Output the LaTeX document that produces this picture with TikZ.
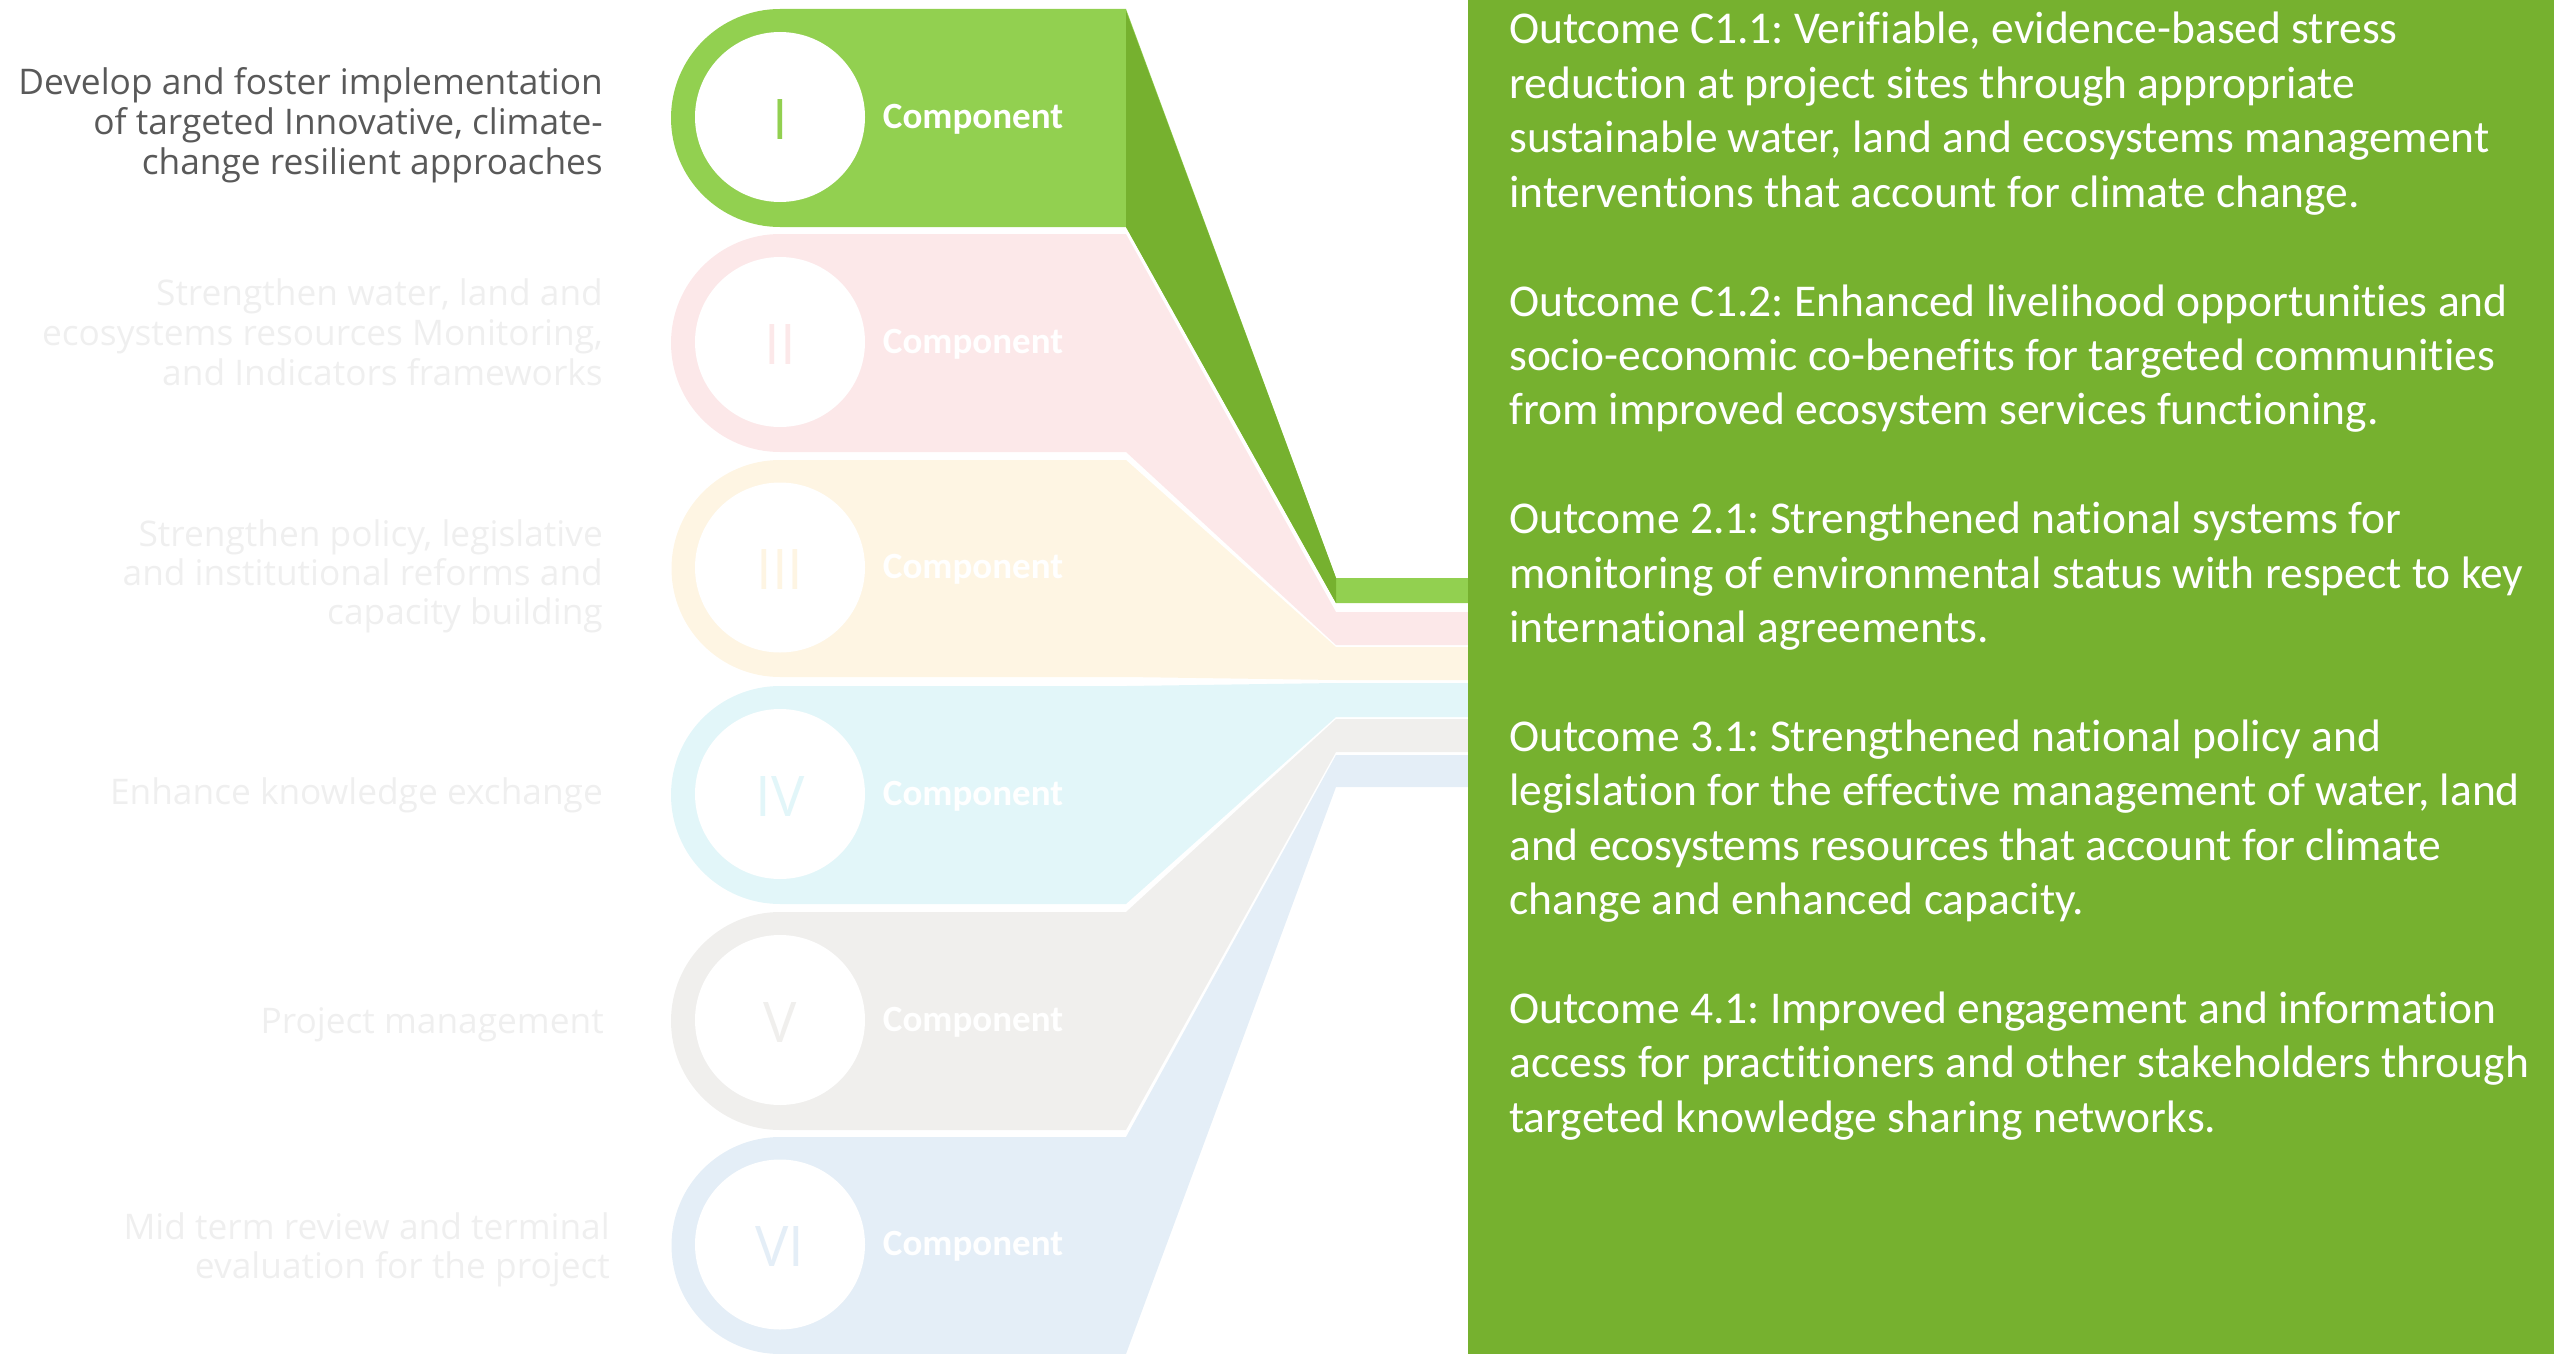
\documentclass[tikz,border=0pt]{standalone}
\usepackage{fontspec}
\setmainfont{Open Sans}
\newfontfamily\calfont{Carlito}[Ligatures=NoCommon]
\newfontfamily\numfont{Open Sans}
\definecolor{lgreen}{HTML}{92D050}
\definecolor{dgreen}{HTML}{76B12F}
\definecolor{cI}{HTML}{92D050}
\definecolor{cII}{HTML}{FCE8E9}
\definecolor{cIII}{HTML}{FEF5E3}
\definecolor{cIV}{HTML}{E2F6F9}
\definecolor{cV}{HTML}{F0EFED}
\definecolor{cVI}{HTML}{E4EEF7}
\definecolor{tdark}{HTML}{595959}
\definecolor{tpale}{HTML}{EFEFEF}
\frenchspacing
\begin{document}
\begin{tikzpicture}[x=1pt,y=1pt,
  lefttext/.style={anchor=base east, inner sep=0pt, font=\fontsize{35.3}{42}\selectfont},
  outtext/.style={anchor=base west, inner sep=0pt, text=white, font=\calfont\fontsize{45.5}{54}\selectfont},
  comptext/.style={anchor=base, inner sep=0pt, text=white, font=\calfont\bfseries\fontsize{37}{44}\selectfont},
  numtext/.style={anchor=base, inner sep=0pt, font=\numfont\fontsize{56}{60}\selectfont}]
\useasboundingbox (0,0) rectangle (2554,-1354);
% ribbons: pill + connector + bar
\foreach \k/\T/\B/\bt/\bb/\col in {1/9/227/578/603/cI, 2/234/452/612/645/cII, 3/460/677/647/680/cIII, 4/686/904/683/717/cIV, 5/912/1130/719/752/cV, 6/1137/1354/755/787/cVI}{
  \pgfmathsetmacro\R{(\B-\T)/2}
  \fill[\col] (1126,-\T) -- (1336,-\bt) -- (1470,-\bt) -- (1470,-\bb) -- (1336,-\bb) -- (1126,-\B) -- (780,-\B) arc[start angle=270,end angle=90,radius=\R] -- cycle;
}
% darker side face of ribbon I
\fill[dgreen] (1126,-11) -- (1336,-578) -- (1336,-603) -- (1126,-227) -- cycle;
% circles, numerals and labels
\foreach \k/\T/\B/\col/\num in {1/9/227/lgreen/I, 2/234/452/cII/II, 3/460/677/cIII/III, 4/686/904/cIV/IV, 5/912/1130/cV/V, 6/1137/1354/cVI/VI}{
  \pgfmathsetmacro\C{(\B+\T)/2}
  \fill[white] (780,{-(\C-1)}) circle[radius=85];
  \node[numtext, text=\col] (num\k) at (780,{-(\C+21)}) {\num};
  \node[comptext] (comp\k) at (973,{-(\C+10)}) {Component};
}
% outcome box
\fill[dgreen] (1468,0) rectangle (2554,-1354);
\foreach \n/\t in {0/{Outcome C1.1: Verifiable, evidence-based stress},
  1/{reduction at project sites through appropriate},
  2/{sustainable water, land and ecosystems management},
  3/{interventions that account for climate change.},
  5/{Outcome C1.2: Enhanced livelihood opportunities and},
  6/{socio-economic co-benefits for targeted communities},
  7/{from improved ecosystem services functioning.},
  9/{Outcome 2.1: Strengthened national systems for},
  10/{monitoring of environmental status with respect to key},
  11/{international agreements.},
  13/{Outcome 3.1: Strengthened national policy and},
  14/{legislation for the effective management of water, land},
  15/{and ecosystems resources that account for climate},
  16/{change and enhanced capacity.},
  18/{Outcome 4.1: Improved engagement and information},
  19/{access for practitioners and other stakeholders through},
  20/{targeted knowledge sharing networks.}}{
  \node[outtext] (out\n) at (1509,{-(44+54.4*\n)}) {\t};
}
% left descriptions
\node[lefttext, text=tdark] (d1a) at (603,-94) {Develop and foster implementation};
\node[lefttext, text=tdark] (d1b) at (603,-134) {of targeted Innovative, climate-};
\node[lefttext, text=tdark] (d1c) at (603,-174) {change resilient approaches};
\node[lefttext, text=tpale] (d2a) at (603,-305) {Strengthen water, land and};
\node[lefttext, text=tpale] (d2b) at (603,-345) {ecosystems resources Monitoring,};
\node[lefttext, text=tpale] (d2c) at (603,-385) {and Indicators frameworks};
\node[lefttext, text=tpale] (d3a) at (603,-546) {Strengthen policy, legislative};
\node[lefttext, text=tpale] (d3b) at (603,-585) {and institutional reforms and};
\node[lefttext, text=tpale] (d3c) at (603,-624) {capacity building};
\node[lefttext, text=tpale] (d4a) at (603,-804) {Enhance knowledge exchange};
\node[lefttext, text=tpale] (d5a) at (604,-1033) {Project management};
\node[lefttext, text=tpale] (d6a) at (610,-1239) {Mid term review and terminal};
\node[lefttext, text=tpale] (d6b) at (610,-1278) {evaluation for the project};
\end{tikzpicture}
\end{document}
